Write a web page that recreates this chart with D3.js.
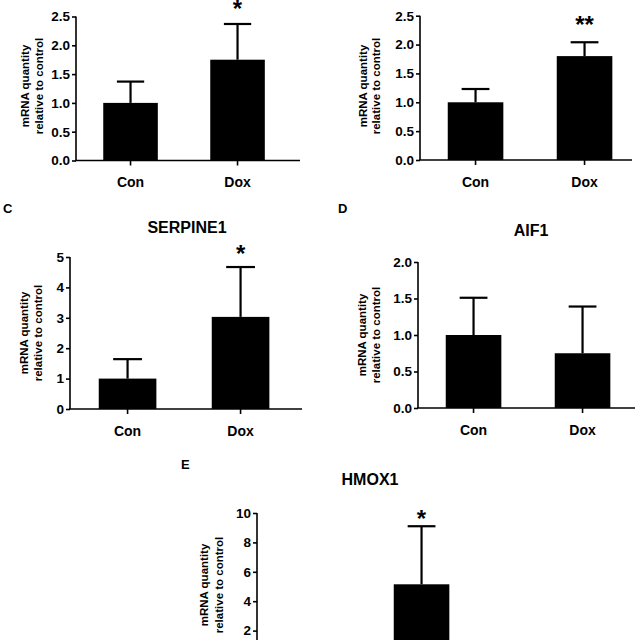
<!DOCTYPE html>
<html>
<head>
<meta charset="utf-8">
<script src="https://cdn.jsdelivr.net/npm/d3@7/dist/d3.min.js"></script>
<style>
  html, body { margin: 0; padding: 0; background: #fff; }
  svg { display: block; font-family: "Liberation Sans", Arial, Helvetica, sans-serif; font-weight: bold; }
</style>
</head>
<body>
<svg id="chart" width="640" height="640"></svg>
<script>
// ---------------- data ----------------
const categories = ["Con", "Dox"];
const panelLetters = ["A", "B", "C", "D", "E"];
const geneTitles = ["", "", "SERPINE1", "AIF1", "HMOX1"];
const yLabelLines = ["mRNA quantity", "relative to control"];

const meanA = [1.0, 1.75];
const sdA   = [0.37, 0.62];
const meanB = [1.0, 1.80];
const sdB   = [0.23, 0.24];
const meanC = [1.0, 3.03];
const sdC   = [0.64, 1.64];
const meanD = [1.0, 0.75];
const sdD   = [0.51, 0.64];
const meanE = [1.0, 5.15];
const sdE   = [0.20, 3.95];

const ticksA = [0, 0.5, 1.0, 1.5, 2.0, 2.5];
const ticksB = [0, 0.5, 1.0, 1.5, 2.0, 2.5];
const ticksC = [0, 1, 2, 3, 4, 5];
const ticksD = [0, 0.5, 1.0, 1.5, 2.0];
const ticksE = [2, 4, 6, 8, 10];

const signifA = ["", "*"];
const signifB = ["", "**"];
const signifC = ["", "*"];
const signifD = ["", ""];
const signifE = ["", "*"];

// ---------------- layout ----------------
const layout = [
  { axisX: 76,  axisEnd: 300, y0: 160.5, yTop: 16.5, yMax: 2.5, step: 107, fmt: ".1f", labX: [29, 43],   labY: 86,  letter: null, title: null, starDy: -7 },
  { axisX: 420, axisEnd: 632, y0: 160,   yTop: 15.7, yMax: 2.5, step: 109, fmt: ".1f", labX: [367, 380], labY: 86,  letter: null, title: null, starDy: -9 },
  { axisX: 70,  axisEnd: 302, y0: 409,   yTop: 257,  yMax: 5,   step: 113, fmt: "d",   labX: [28, 42],   labY: 333, letter: [3, 213],   title: [187, 233], starDy: -5 },
  { axisX: 418, axisEnd: 635, y0: 408,   yTop: 262,  yMax: 2,   step: 109, fmt: ".1f", labX: [366, 380], labY: 335, letter: [338, 213], title: [531, 236], starDy: 0 },
  { axisX: 257, axisEnd: 490, y0: 660,   yTop: 513,  yMax: 10,  step: 109, fmt: "d",   labX: [208, 223], labY: 585, letter: [181, 469], title: [370, 485], starDy: 1 }
];

const means = [meanA, meanB, meanC, meanD, meanE];
const sds = [sdA, sdB, sdC, sdD, sdE];
const ticks = [ticksA, ticksB, ticksC, ticksD, ticksE];
const signifs = [signifA, signifB, signifC, signifD, signifE];

const svg = d3.select("#chart");

layout.forEach((L, i) => {
  const g = svg.append("g");
  const x = d3.scaleBand()
    .domain(categories)
    .range([L.axisX + 0.5, L.axisX + 0.5 + L.step * 2.01])
    .paddingInner(0.49)
    .paddingOuter(0.25);
  const y = d3.scaleLinear().domain([0, L.yMax]).range([L.y0, L.yTop]);

  const rows = categories.map((c, k) => ({ c, m: means[i][k], sd: sds[i][k], s: signifs[i][k] }));

  // error bars (upper only)
  const capW = x.bandwidth() * 0.5;
  const eb = g.append("g").attr("stroke", "#000").attr("stroke-width", 2.2);
  eb.selectAll("line.v").data(rows).join("line")
    .attr("x1", d => x(d.c) + x.bandwidth() / 2).attr("x2", d => x(d.c) + x.bandwidth() / 2)
    .attr("y1", d => y(d.m)).attr("y2", d => y(d.m + d.sd));
  eb.selectAll("line.h").data(rows).join("line")
    .attr("x1", d => x(d.c) + x.bandwidth() / 2 - capW / 2).attr("x2", d => x(d.c) + x.bandwidth() / 2 + capW / 2)
    .attr("y1", d => y(d.m + d.sd)).attr("y2", d => y(d.m + d.sd));

  // bars
  g.selectAll("rect").data(rows).join("rect")
    .attr("x", d => x(d.c)).attr("width", x.bandwidth())
    .attr("y", d => y(d.m)).attr("height", d => y(0) - y(d.m))
    .attr("fill", "#000");

  // significance stars
  g.selectAll("text.star").data(rows.filter(d => d.s)).join("text")
    .attr("class", "star")
    .attr("x", d => x(d.c) + x.bandwidth() / 2)
    .attr("y", d => y(d.m + d.sd) + L.starDy)
    .attr("text-anchor", "middle")
    .attr("font-size", 24)
    .text(d => d.s);

  // y axis
  const ya = g.append("g").attr("transform", `translate(${L.axisX},0)`)
    .call(d3.axisLeft(y).tickValues(ticks[i]).tickSize(4).tickSizeOuter(0).tickPadding(2).tickFormat(d3.format(L.fmt)));
  ya.select(".domain").attr("d", `M-0,${L.y0}V${L.yTop}`);
  ya.selectAll("text").attr("font-size", 13.5).attr("fill", "#000");
  ya.selectAll("line,path").attr("stroke", "#000").attr("stroke-width", 1.6);
  ya.attr("font-family", null);

  // x axis
  const xa = g.append("g").attr("transform", `translate(0,${L.y0})`)
    .call(d3.axisBottom(x).tickSize(5).tickSizeOuter(0).tickPadding(12));
  xa.select(".domain").remove();
  xa.append("line").attr("x1", L.axisX - 0.8).attr("x2", L.axisEnd).attr("y1", 0).attr("y2", 0)
    .attr("stroke", "#000").attr("stroke-width", 1.6);
  xa.selectAll("line").attr("stroke", "#000").attr("stroke-width", 1.6);
  xa.selectAll("text").attr("font-size", 14).attr("fill", "#000");
  xa.attr("font-family", null);

  // y label (two rotated lines)
  yLabelLines.forEach((t, k) => {
    g.append("text")
      .attr("transform", `translate(${L.labX[k]},${L.labY}) rotate(-90)`)
      .attr("text-anchor", "middle")
      .attr("font-size", 11.5)
      .text(t);
  });

  // panel letter & title
  if (L.letter) {
    g.append("text").attr("x", L.letter[0]).attr("y", L.letter[1])
      .attr("font-size", 13).text(panelLetters[i]);
  }
  if (L.title) {
    g.append("text").attr("x", L.title[0]).attr("y", L.title[1])
      .attr("text-anchor", "middle").attr("font-size", 16).text(geneTitles[i]);
  }
});
</script>
</body>
</html>
